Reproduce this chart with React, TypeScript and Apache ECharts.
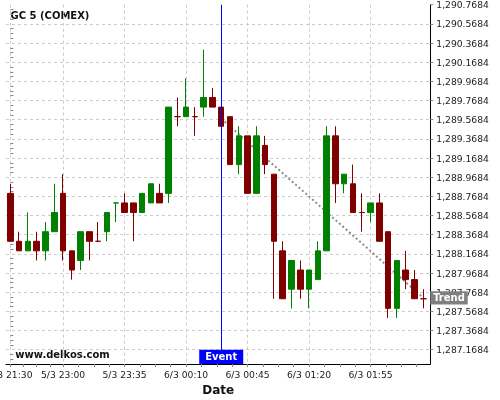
import React, { useEffect, useRef } from "react";
import * as echarts from "echarts";

const TITLE = "GC 5 (COMEX)";
const WATERMARK = "www.delkos.com";
const X_NAME = "Date";
const EVENT_TEXT = "Event";
const TREND_TEXT = "Trend";

// one entry per 5-minute bar
const OPEN = [
  1288.8, 1288.3, 1288.2, 1288.3, 1288.2, 1288.4, 1288.8, 1288.2, 1288.1, 1288.4,
  1288.3, 1288.4, 1288.7, 1288.7, 1288.7, 1288.6, 1288.7, 1288.8, 1288.8, 1289.6,
  1289.6, 1289.6, 1289.7, 1289.8, 1289.7, 1289.6, 1289.1, 1289.4, 1288.8, 1289.3,
  1289.0, 1288.2, 1287.8, 1288.0, 1287.8, 1287.9, 1288.2, 1289.4, 1288.9, 1288.9,
  1288.6, 1288.6, 1288.7, 1288.4, 1287.6, 1288.0, 1287.9, 1287.7,
];
const CLOSE = [
  1288.3, 1288.2, 1288.3, 1288.2, 1288.4, 1288.6, 1288.2, 1288.0, 1288.4, 1288.3,
  1288.3, 1288.6, 1288.7, 1288.6, 1288.6, 1288.8, 1288.9, 1288.7, 1289.7, 1289.6,
  1289.7, 1289.6, 1289.8, 1289.7, 1289.5, 1289.1, 1289.4, 1288.8, 1289.4, 1289.1,
  1288.3, 1287.7, 1288.1, 1287.8, 1288.0, 1288.2, 1289.4, 1288.9, 1289.0, 1288.6,
  1288.6, 1288.7, 1288.3, 1287.6, 1288.1, 1287.9, 1287.7, 1287.7,
];
const LOW = [
  1288.3, 1288.2, 1288.2, 1288.1, 1288.1, 1288.4, 1288.1, 1287.9, 1288.0, 1288.1,
  1288.3, 1288.3, 1288.5, 1288.6, 1288.3, 1288.6, 1288.7, 1288.7, 1288.7, 1289.5,
  1289.6, 1289.4, 1289.6, 1289.7, 1289.5, 1289.1, 1289.0, 1288.8, 1288.8, 1289.0,
  1287.7, 1287.7, 1287.6, 1287.7, 1287.6, 1287.9, 1288.2, 1288.7, 1288.8, 1288.6,
  1288.4, 1288.5, 1288.3, 1287.5, 1287.5, 1287.8, 1287.7, 1287.6,
];
const HIGH = [
  1288.9, 1288.4, 1288.6, 1288.4, 1288.5, 1288.9, 1289.0, 1288.2, 1288.4, 1288.4,
  1288.5, 1288.6, 1288.7, 1288.8, 1288.7, 1288.8, 1288.9, 1288.9, 1289.7, 1289.8,
  1290.0, 1289.7, 1290.3, 1289.9, 1289.7, 1289.6, 1289.5, 1289.4, 1289.5, 1289.4,
  1289.0, 1288.3, 1288.1, 1288.1, 1288.0, 1288.3, 1289.5, 1289.5, 1289.0, 1289.1,
  1288.8, 1288.7, 1288.8, 1288.4, 1288.1, 1288.2, 1288.0, 1287.8,
];
// bars whose open equals close and which are drawn as falling bars
const FALLING_DOJI = [10, 19, 21, 40, 47];

const X_LABEL_IDX = [0, 6, 13, 20, 27, 34, 41];
const X_LABELS = ["5/3 21:30", "5/3 23:00", "5/3 23:35", "6/3 00:10", "6/3 00:45", "6/3 01:20", "6/3 01:55"];

const Y_TICKS = [
  1287.1684, 1287.3684, 1287.5684, 1287.7684, 1287.9684, 1288.1684, 1288.3684,
  1288.5684, 1288.7684, 1288.9684, 1289.1684, 1289.3684, 1289.5684, 1289.7684,
  1289.9684, 1290.1684, 1290.3684, 1290.5684, 1290.7684,
];
const Y_MIN = 1287.0184;
const Y_MAX = 1290.7684;
const X_MIN = -0.5;
const X_MAX = 47.8;

const EVENT_IDX = 24;
const TREND_START = [24, 1289.58];
const TREND_END = [47, 1287.71];

const UP = "#008000";
const DOWN = "#800000";
const FONT = "DejaVu Sans";

function fmtY(v: number) {
  const s = v.toFixed(4);
  const [i, d] = s.split(".");
  return i.replace(/\B(?=(\d{3})+(?!\d))/g, ",") + "." + d;
}

export default function App() {
  const ref = useRef<HTMLDivElement>(null);

  useEffect(() => {
    const chart = echarts.init(ref.current!, undefined, { renderer: "svg" });

    const categories = OPEN.map((_, i) => String(i));
    const candles = OPEN.map((o, i) => {
      const value = [o, CLOSE[i], LOW[i], HIGH[i]];
      if (o === CLOSE[i]) {
        const c = FALLING_DOJI.includes(i) ? DOWN : UP;
        return {
          value,
          itemStyle: { color: c, color0: c, borderColor: c, borderColor0: c, borderColorDoji: c },
        };
      }
      return { value };
    });

    // minor ticks: 3 between labelled ticks
    const minorX: number[] = [];
    X_LABEL_IDX.forEach((a, k) => {
      const b = k + 1 < X_LABEL_IDX.length ? X_LABEL_IDX[k + 1] : a + 7;
      for (let j = 1; j <= 3; j++) minorX.push(a + ((b - a) * j) / 4);
    });
    const minorY: number[] = [];
    const yStep = Y_TICKS[1] - Y_TICKS[0];
    minorY.push(Y_TICKS[0] - yStep / 4, Y_TICKS[0] - yStep / 2);
    for (let k = 0; k < Y_TICKS.length - 1; k++) {
      for (let j = 1; j <= 3; j++) minorY.push(Y_TICKS[k] + (yStep * j) / 4);
    }

    const tickStyle = { color: "#888", width: 1 };
    const gridLine = { color: "#cccccc", width: 1, type: [3, 3] };
    const plotW = 500 - 6 - 69.7;
    const bandW = plotW / (X_MAX - X_MIN);

    chart.setOption({
      animation: false,
      grid: [
        { left: 6, right: 69.7, top: 4.7, bottom: 35.9, containLabel: false, outerBoundsMode: "none" },
        { left: 6, width: bandW * OPEN.length, top: 4.7, bottom: 35.9, containLabel: false, outerBoundsMode: "none" },
      ],
      graphic: [
        {
          type: "text",
          x: 10.5,
          y: 15.3,
          style: { text: TITLE, fontFamily: FONT, fontSize: 10, fontWeight: "bold", fill: "#111", verticalAlign: "middle" },
        },
        {
          type: "text",
          x: 15.3,
          y: 354,
          style: { text: WATERMARK, fontFamily: FONT, fontSize: 10, fontWeight: "bold", fill: "#111", verticalAlign: "middle" },
        },
      ],
      xAxis: [
        {
          type: "value",
          gridIndex: 0,
          min: X_MIN,
          max: X_MAX,
          position: "bottom",
          name: X_NAME,
          nameLocation: "middle",
          nameGap: 19,
          nameTextStyle: { fontFamily: FONT, fontSize: 12, fontWeight: "bold", color: "#111" },
          axisLine: { show: true, onZero: false, lineStyle: { color: "#000", width: 1 } },
          axisTick: { show: true, length: 3, customValues: X_LABEL_IDX, lineStyle: tickStyle },
          axisLabel: {
            show: true,
            customValues: X_LABEL_IDX,
            margin: 6,
            fontFamily: FONT,
            fontSize: 9.2,
            color: "#222",
            formatter: (v: number) => X_LABELS[X_LABEL_IDX.indexOf(Math.round(v))] ?? "",
          },
          splitLine: { show: true, lineStyle: gridLine },
        },
        {
          type: "value",
          gridIndex: 0,
          min: X_MIN,
          max: X_MAX,
          position: "bottom",
          axisLine: { show: false },
          axisTick: { show: true, length: 3, customValues: minorX, lineStyle: tickStyle },
          axisLabel: { show: false },
          splitLine: { show: false },
        },
        {
          type: "category",
          gridIndex: 1,
          data: categories,
          boundaryGap: true,
          show: false,
        },
      ],
      yAxis: [
        {
          type: "value",
          gridIndex: 0,
          min: Y_MIN,
          max: Y_MAX,
          position: "right",
          axisLine: { show: true, onZero: false, lineStyle: { color: "#000", width: 1 } },
          axisTick: { show: true, length: 3, customValues: Y_TICKS, lineStyle: tickStyle },
          axisLabel: {
            show: true,
            customValues: Y_TICKS,
            margin: 6,
            fontFamily: FONT,
            fontSize: 9.2,
            color: "#222",
            formatter: (v: number) => fmtY(v),
          },
          splitLine: { show: true, showMaxLine: false, lineStyle: gridLine },
        },
        {
          type: "value",
          gridIndex: 0,
          min: Y_MIN,
          max: Y_MAX,
          position: "right",
          axisLine: { show: false },
          axisTick: { show: true, length: 3, customValues: minorY, lineStyle: tickStyle },
          axisLabel: { show: false },
          splitLine: { show: false },
        },
        {
          type: "value",
          gridIndex: 1,
          min: Y_MIN,
          max: Y_MAX,
          show: false,
        },
      ],
      series: [
        {
          type: "line",
          z: 1,
          xAxisIndex: 0,
          yAxisIndex: 0,
          data: [TREND_START, TREND_END],
          symbol: "none",
          silent: true,
          lineStyle: { color: "#8c8c8c", width: 2, type: [2, 2.5] },
          markLine: {
            z: 5,
            silent: true,
            symbol: ["none", "none"],
            label: { show: false },
            lineStyle: { color: "#0000ff", width: 1, type: "solid" },
            data: [[{ coord: [EVENT_IDX, Y_MAX] }, { coord: [EVENT_IDX, Y_MIN] }]],
          },
          markPoint: {
            z: 6,
            silent: true,
            data: [
              {
                coord: [X_MAX, TREND_END[1]],
                symbol: "rect",
                symbolSize: [37.4, 13.3],
                symbolOffset: [18.7, 0],
                itemStyle: { color: "#808080" },
                label: {
                  show: true,
                  position: "inside",
                  formatter: TREND_TEXT,
                  color: "#fff",
                  fontFamily: FONT,
                  fontSize: 10,
                  fontWeight: "bold",
                },
              },
              {
                coord: [EVENT_IDX, Y_MIN],
                symbol: "rect",
                symbolSize: [44, 14.3],
                symbolOffset: [0, -7.15],
                itemStyle: { color: "#0000ff" },
                label: {
                  show: true,
                  position: "inside",
                  formatter: EVENT_TEXT,
                  color: "#fff",
                  fontFamily: FONT,
                  fontSize: 10,
                  fontWeight: "bold",
                },
              },
            ],
          },
        },
        {
          type: "candlestick",
          z: 2,
          xAxisIndex: 2,
          yAxisIndex: 2,
          barWidth: 6,
          data: candles,
          itemStyle: { color: UP, color0: DOWN, borderColor: UP, borderColor0: DOWN, borderWidth: 1 },
        },
      ],
    });

    return () => chart.dispose();
  }, []);

  return <div ref={ref} style={{ position: "fixed", left: 0, top: 0, width: 500, height: 400 }} />;
}
